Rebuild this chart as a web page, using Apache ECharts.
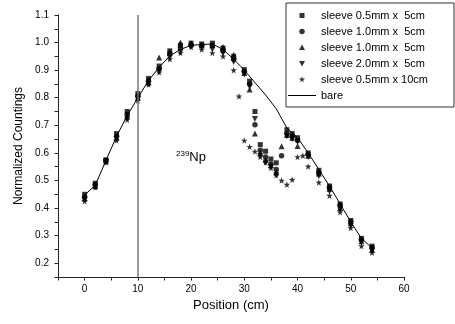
<!DOCTYPE html>
<html><head><meta charset="utf-8">
<script src="https://cdn.jsdelivr.net/npm/echarts@6/dist/echarts.min.js"></script>
<style>html,body{margin:0;padding:0;background:#fff}#c{width:455px;height:324px}</style>
</head><body><div id="c"></div>
<script>
// ---- axis ticks ----
const xLabelValues = [0, 10, 20, 30, 40, 50, 60];
const yLabelValues = [0.2, 0.3, 0.4, 0.5, 0.6, 0.7, 0.8, 0.9, 1.0, 1.1];

// ---- bare curve ----
const bareX = [0, 2, 4, 6, 8, 10, 12, 14, 16, 18, 20, 22, 24, 26, 28, 30, 32, 34, 36, 38, 40, 42, 44, 46, 48, 50, 52, 54];
const bareY = [0.447, 0.483, 0.572, 0.66, 0.735, 0.80, 0.862, 0.91, 0.952, 0.975, 0.99, 0.993, 0.995, 0.975, 0.94, 0.90, 0.855, 0.81, 0.76, 0.69, 0.655, 0.60, 0.54, 0.48, 0.415, 0.35, 0.29, 0.255];

// ---- sleeve measurements (shared positions) ----
const positions = [0, 2, 4, 6, 8, 10, 12, 14, 16, 18, 20, 22, 24, 26, 28, 30, 31, 32, 33, 34, 35, 36, 37, 38, 39, 40, 42, 44, 46, 48, 50, 52, 54];
const sleeve05x5 = [0.45, 0.49, 0.575, 0.67, 0.75, 0.815, 0.87, 0.915, 0.97, 0.99, 0.998, 0.995, 0.998, 0.98, 0.95, 0.902, 0.86, 0.75, 0.63, 0.606, 0.578, 0.564, null, 0.684, 0.67, 0.655, 0.60, 0.537, 0.48, 0.415, 0.355, 0.29, 0.262];
const sleeve10x5a = [0.44, 0.485, 0.572, 0.66, 0.74, 0.805, 0.862, 0.905, 0.96, 0.98, 0.99, 0.99, 0.99, 0.97, 0.94, 0.895, 0.85, 0.702, 0.61, 0.585, 0.56, 0.54, 0.59, 0.67, 0.66, 0.645, 0.595, 0.53, 0.475, 0.41, 0.35, 0.285, 0.256];
const sleeve10x5b = [0.435, 0.48, 0.57, 0.655, 0.735, 0.80, 0.855, 0.946, 0.965, 1.0, 0.998, 0.99, 0.99, 0.984, 0.956, 0.89, 0.83, 0.67, 0.60, 0.575, 0.555, 0.53, 0.624, 0.665, 0.655, 0.625, 0.59, 0.525, 0.47, 0.40, 0.345, 0.28, 0.25];
const sleeve20x5 = [0.43, 0.475, 0.568, 0.65, 0.725, 0.795, 0.85, 0.895, 0.945, 0.965, 0.985, 0.98, 0.975, 0.96, 0.93, 0.885, 0.84, 0.723, 0.59, 0.565, 0.55, 0.52, null, 0.66, 0.65, 0.64, 0.585, 0.515, 0.46, 0.395, 0.335, 0.275, 0.245];

// ---- 10 cm sleeve ----
const starPositions = [0, 2, 4, 6, 8, 10, 12, 14, 16, 18, 20, 22, 24, 26, 28, 29, 30, 31, 32, 33, 34, 35, 36, 37, 38, 39, 40, 41, 42, 44, 46, 48, 50, 52, 54];
const sleeve05x10 = [0.425, 0.475, 0.565, 0.645, 0.72, 0.79, 0.848, 0.892, 0.94, 0.962, 0.984, 0.975, 0.962, 0.95, 0.90, 0.805, 0.645, 0.622, 0.605, 0.585, 0.565, 0.545, 0.519, 0.50, 0.485, 0.503, 0.585, 0.59, 0.551, 0.493, 0.445, 0.385, 0.328, 0.262, 0.238];

const markerPosition = 10;

function pairs(xs, ys) {
  const out = [];
  xs.forEach((x, i) => { if (ys[i] != null) out.push([x, ys[i]]); });
  return out;
}

const FONT = 'Liberation Sans, Arial, sans-serif';
const chart = echarts.init(document.getElementById('c'), null, {renderer: 'canvas'});
const axisCol = '#222';
const scatterBase = {type: 'scatter', itemStyle: {color: '#000'}, z: 3};

// legend icons laid out in a 28x7 box (corner moveTos fix the box)
const BOX = 'M0,0 M28,7 ';
const STAR_PATH = 'M0,-10 L2.35,-3.24 L9.51,-3.09 L3.8,1.24 L5.88,8.09 L0,4 L-5.88,8.09 L-3.8,1.24 L-9.51,-3.09 L-2.35,-3.24 Z';
const icons = {
  rect: 'path://' + BOX + 'M11.5,1 h5 v5 h-5 Z',
  circle: 'path://' + BOX + 'M11.25,3.5 A2.75,2.75 0 1,0 16.75,3.5 A2.75,2.75 0 1,0 11.25,3.5 Z',
  up: 'path://' + BOX + 'M14,0.5 L17,6 L11,6 Z',
  down: 'path://' + BOX + 'M11,1 L17,1 L14,6.5 Z',
  star: 'path://' + BOX + 'M14,0.2 L14.76,2.45 L17.14,2.48 L15.24,3.9 L15.94,6.17 L14,4.8 L12.06,6.17 L12.76,3.9 L10.86,2.48 L13.24,2.45 Z',
  line: 'path://' + BOX + 'M0,3 h28 v1 h-28 Z'
};

chart.setOption({
  animation: false,
  backgroundColor: '#fff',
  grid: {left: 58, right: 51, top: 15, bottom: 47},
  xAxis: {
    type: 'value', min: -5, max: 60, interval: 5,
    name: 'Position (cm)', nameLocation: 'middle', nameGap: 22,
    nameTextStyle: {fontFamily: FONT, fontSize: 13, color: '#000'},
    axisLine: {show: true, onZero: false, lineStyle: {color: axisCol, width: 1}},
    axisTick: {show: true, inside: false, length: 3.5, lineStyle: {color: axisCol}},
    axisLabel: {show: true, fontFamily: FONT, fontSize: 10, color: '#000', margin: 7,
      formatter: v => xLabelValues.indexOf(Math.round(v)) >= 0 ? String(Math.round(v)) : ''},
    splitLine: {show: false}
  },
  yAxis: {
    type: 'value', min: 0.15, max: 1.1, interval: 0.05,
    name: 'Normalized Countings', nameLocation: 'middle', nameGap: 25,
    nameTextStyle: {fontFamily: FONT, fontSize: 12, color: '#000'},
    axisLine: {show: true, onZero: false, lineStyle: {color: axisCol, width: 1}},
    axisTick: {show: true, inside: false, length: 3.5, lineStyle: {color: axisCol}},
    axisLabel: {show: true, fontFamily: FONT, fontSize: 10, color: '#000', margin: 9,
      formatter: v => {
        const r = Math.round(v * 100) / 100;
        return yLabelValues.some(t => Math.abs(t - r) < 1e-6) ? r.toFixed(1) : '';
      }},
    splitLine: {show: false}
  },
  legend: {
    left: 286, top: 3, orient: 'vertical',
    backgroundColor: '#fff', borderColor: '#333', borderWidth: 1,
    padding: [6, 26, 5, 2], itemGap: 3, itemWidth: 28, itemHeight: 7,
    textStyle: {fontFamily: FONT, fontSize: 11, color: '#000', lineHeight: 13},
    data: [
      {name: 'sleeve 0.5mm x  5cm', icon: icons.rect},
      {name: 'sleeve 1.0mm x  5cm', icon: icons.circle},
      {name: 'sleeve 1.0mm x  5cm ', icon: icons.up},
      {name: 'sleeve 2.0mm x  5cm', icon: icons.down},
      {name: 'sleeve 0.5mm x 10cm', icon: icons.star},
      {name: 'bare', icon: icons.line}
    ]
  },
  graphic: [{
    type: 'text', left: 176, top: 150,
    style: {
      text: '{s|239}{n|Np}',
      rich: {
        s: {fontFamily: FONT, fontSize: 8, fill: '#000', verticalAlign: 'top', padding: [0, 0, 7, 0]},
        n: {fontFamily: FONT, fontSize: 13, fill: '#000'}
      }
    }
  }],
  series: [
    Object.assign({}, scatterBase, {name: 'sleeve 0.5mm x  5cm', symbol: 'rect', symbolSize: 5, data: pairs(positions, sleeve05x5)}),
    Object.assign({}, scatterBase, {name: 'sleeve 1.0mm x  5cm', symbol: 'circle', symbolSize: 5.5, data: pairs(positions, sleeve10x5a)}),
    Object.assign({}, scatterBase, {name: 'sleeve 1.0mm x  5cm ', symbol: 'triangle', symbolSize: 6, data: pairs(positions, sleeve10x5b)}),
    Object.assign({}, scatterBase, {name: 'sleeve 2.0mm x  5cm', symbol: 'triangle', symbolRotate: 180, symbolSize: 6, data: pairs(positions, sleeve20x5)}),
    Object.assign({}, scatterBase, {name: 'sleeve 0.5mm x 10cm', symbol: 'path://' + STAR_PATH, symbolSize: 6.5, data: pairs(starPositions, sleeve05x10)}),
    {
      name: 'bare', type: 'line', symbol: 'none', z: 2,
      lineStyle: {color: '#000', width: 1}, itemStyle: {color: '#000'},
      data: pairs(bareX, bareY),
      markLine: {
        silent: true, symbol: 'none', label: {show: false},
        lineStyle: {color: '#777', width: 1.5, type: 'solid'},
        data: [{xAxis: markerPosition}]
      }
    }
  ]
});
</script>
</body></html>
